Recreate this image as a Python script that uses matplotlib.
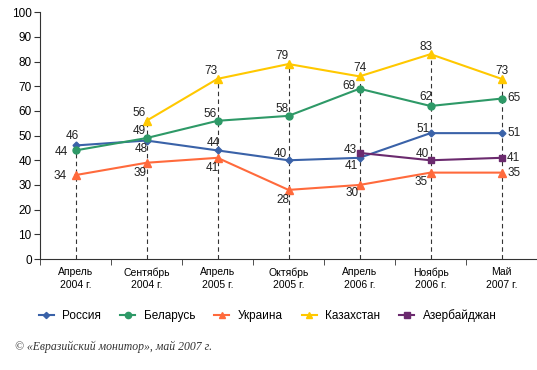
import numpy as np
import matplotlib
matplotlib.use('Agg')
import matplotlib.pyplot as plt

# survey waves
periods = ['Апрель\n2004 г.', 'Сентябрь\n2004 г.', 'Апрель\n2005 г.', 'Октябрь\n2005 г.',
           'Апрель\n2006 г.', 'Ноябрь\n2006 г.', 'Май\n2007 г.']

nan = np.nan
russia = [46, 48, 44, 40, 41, 51, 51]
belarus = [44, 49, 56, 58, 69, 62, 65]
ukraine = [34, 39, 41, 28, 30, 35, 35]
kazakhstan = [nan, 56, 73, 79, 74, 83, 73]
azerbaijan = [nan, nan, nan, nan, 43, 40, 41]

series = [
    ('Россия', russia, '#3a62a8', 'D', 3.5),
    ('Беларусь', belarus, '#2e9967', 'o', 5),
    ('Украина', ukraine, '#ff6a3c', '^', 5.5),
    ('Казахстан', kazakhstan, '#ffc800', '^', 5.5),
    ('Азербайджан', azerbaijan, '#6b2a6e', 's', 4.5),
]

# label offsets in pixels (dx, dy)
offs = {
    'Россия': [(-3, 9), (-5, -8), (-4, 7), (-8, 6), (-8, -8), (-7, 4), (13, 0)],
    'Беларусь': [(-14, -2), (-7, 7), (-7, 7), (-6, 7), (-11, 3), (-5, 9), (12, 1)],
    'Украина': [(-15, -1), (-6, -10), (-5, -10), (-6, -10), (-7, -8), (-9, -9), (13, 0)],
    'Казахстан': [None, (-7, 8), (-7, 8), (-7, 8), (0, 8), (-4, 7), (0, 8)],
    'Азербайджан': [None, None, None, None, (-9, 3), (-8, 6), (12, 0)],
}

plt.rcParams['font.family'] = ['Liberation Sans', 'DejaVu Sans']

fig = plt.figure(figsize=(5.37, 3.70), dpi=100)
ax = fig.add_axes([40 / 537, 0.30, 1 - 40 / 537, 0.667])

x = np.arange(len(periods))
allv = np.array([russia, belarus, ukraine, kazakhstan, azerbaijan], dtype=float)
tops = np.nanmax(allv, axis=0)
ax.vlines(x, 0, tops, colors='#333333', linestyles=(0, (4, 3)), linewidth=0.8, zorder=1)

handles = []
for name, vals, col, mk, ms in series:
    h, = ax.plot(x, vals, color=col, marker=mk, markersize=ms, linewidth=1.5, zorder=3, label=name)
    handles.append(h)
    for i, v in enumerate(vals):
        if np.isnan(v):
            continue
        dx, dy = offs[name][i]
        ax.annotate(str(int(v)), (x[i], v), xytext=(dx, dy), textcoords='offset pixels',
                    ha='center', va='center', fontsize=8.5, color='#222222', zorder=4)

ax.set_ylim(0, 100)
ax.set_xlim(-0.5, len(periods) - 0.5)
ax.set_yticks(range(0, 101, 10))
ax.set_xticks(x)
ax.set_xticklabels(periods, fontsize=7.5, linespacing=1.3)
ax.set_xticks(np.arange(-0.5, len(periods)), minor=True)
ax.tick_params(axis='x', which='major', length=0, pad=6)
ax.tick_params(axis='x', which='minor', length=4, direction='out', color='#333333')
ax.tick_params(axis='y', length=4, labelsize=8.5, color='#333333', pad=2)
for s in ['top', 'right']:
    ax.spines[s].set_visible(False)
for s in ['left', 'bottom']:
    ax.spines[s].set_color('#333333')

fig.legend(handles=handles, loc='center left', bbox_to_anchor=(28 / 537, 0.148), ncol=5, frameon=False,
           fontsize=8.5, handlelength=1.3, columnspacing=1.6, handletextpad=0.7, markerscale=0.9)

fig.text(0.028, 0.055, '© «Евразийский монитор», май 2007 г.', fontsize=8.5,
         family=['Liberation Serif', 'DejaVu Serif'], style='italic', color='#333333')

fig.savefig('out.png', dpi=100)
